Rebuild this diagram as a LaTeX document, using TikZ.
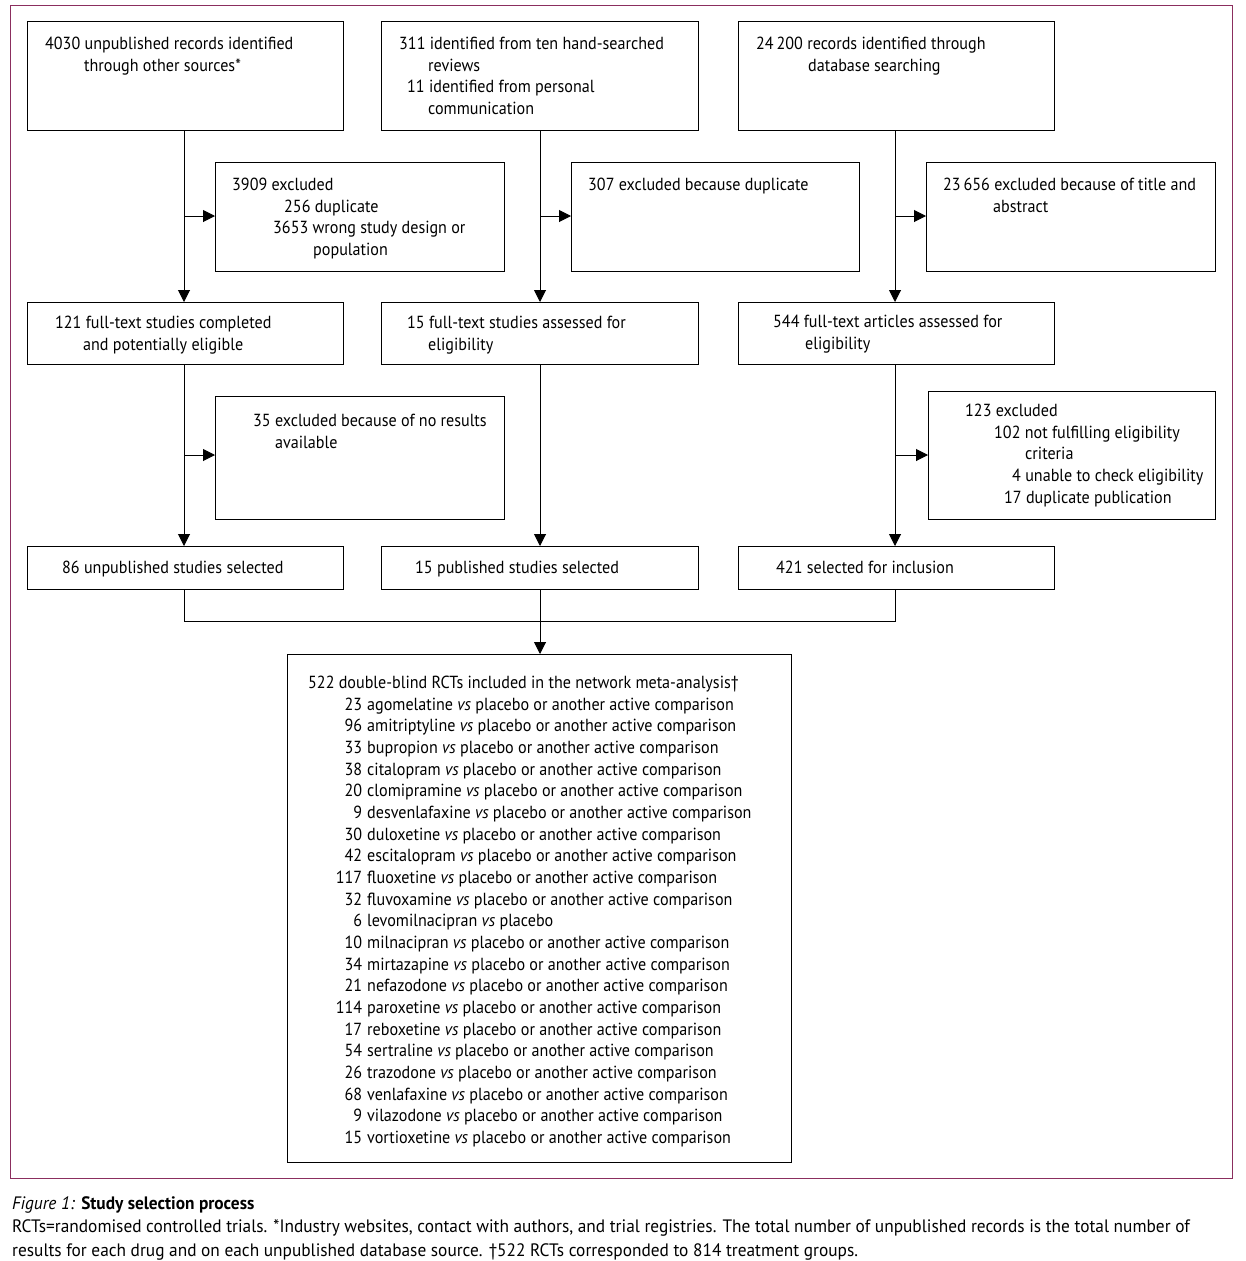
\documentclass[tikz,border=0pt]{standalone}
\usepackage{fontspec}
\setmainfont{PT Sans}[FakeStretch=0.92]
\newfontfamily\capfont{PT Sans}[FakeStretch=0.962]
\usetikzlibrary{arrows.meta}
\definecolor{frame}{RGB}{139,46,94}
\tikzset{
  box/.style={draw, line width=1pt, anchor=north west, inner sep=0pt},
  txt/.style={anchor=north west, inner sep=0pt, align=left, font=\fontsize{17.5}{21.67}\selectfont},
  capt/.style={anchor=base west, inner sep=0pt, font=\capfont\fontsize{18}{20}\selectfont},
  line/.style={line width=1pt},
  arr/.style={line width=1pt, -{Triangle[length=12pt,width=12pt]}},
}
\newcommand{\vsx}{\textit{vs}}
\newcommand{\nl}[2]{\makebox[54pt][r]{#1}\hspace{5pt}#2}
% first-line baseline offset: strut height = 0.7*21.67
\newcommand{\fs}{\strut}
\begin{document}
\begin{tikzpicture}[x=1pt,y=-1pt]
\useasboundingbox (0,0) rectangle (1245,1261);
\fill[white] (0,0) rectangle (1245,1261);
\node[draw=frame, line width=1pt, anchor=north west, minimum width=1222pt, minimum height=1173pt, inner sep=0pt] (frm) at (10,5) {};

% row 1
\node[box, minimum width=316pt, minimum height=109pt] (a1) at (27,21) {};
\node[box, minimum width=317pt, minimum height=109pt] (b1) at (381,21) {};
\node[box, minimum width=316pt, minimum height=109pt] (c1) at (738,21) {};
\node[txt] (ta1) at (45,34) {\fs 4030 unpublished records identified\\\hspace*{39pt}through other sources*};
\node[txt] (tb1) at (399,34) {\fs 311 identified from ten hand-searched\\\hspace*{29pt}reviews\\\hspace*{8pt}11 identified from personal\\\hspace*{29pt}communication};
\node[txt] (tc1) at (756,34) {\fs 24\,200 records identified through\\\hspace*{52pt}database searching};

% exclusion row 1
\node[box, minimum width=289pt, minimum height=109pt] (e1) at (215,162) {};
\node[box, minimum width=288pt, minimum height=109pt] (e2) at (571,162) {};
\node[box, minimum width=289pt, minimum height=109pt] (e3) at (926,162) {};
\node[txt] (te1) at (232,175) {\fs 3909 excluded\\\hspace*{52pt}256 duplicate\\\hspace*{41pt}3653 wrong study design or\\\hspace*{81pt}population};
\node[txt] (te2) at (588,175) {\fs 307 excluded because duplicate};
\node[txt] (te3) at (943,175) {\fs 23\,656 excluded because of title and\\\hspace*{50pt}abstract};

% row 2
\node[box, minimum width=316pt, minimum height=62pt] (a2) at (27,302) {};
\node[box, minimum width=317pt, minimum height=62pt] (b2) at (381,302) {};
\node[box, minimum width=316pt, minimum height=62pt] (c2) at (738,302) {};
\node[txt] (ta2) at (55,313) {\fs 121 full-text studies completed\\\hspace*{28pt}and potentially eligible};
\node[txt] (tb2) at (407,313) {\fs 15 full-text studies assessed for\\\hspace*{21pt}eligibility};
\node[txt] (tc2) at (773,312) {\fs 544 full-text articles assessed for\\\hspace*{32pt}eligibility};

% exclusion row 2
\node[box, minimum width=289pt, minimum height=123pt] (e4) at (215,396) {};
\node[box, minimum width=287pt, minimum height=128pt] (e6) at (928,391) {};
\node[txt] (te4) at (253,411) {\fs 35 excluded because of no results\\\hspace*{22pt}available};
\node[txt] (te6) at (965,401) {\fs 123 excluded\\\hspace*{29pt}102 not fulfilling eligibility\\\hspace*{60pt}criteria\\\hspace*{47pt}4 unable to check eligibility\\\hspace*{39pt}17 duplicate publication};

% row 3
\node[box, minimum width=316pt, minimum height=43pt] (a3) at (27,546) {};
\node[box, minimum width=317pt, minimum height=43pt] (b3) at (381,546) {};
\node[box, minimum width=316pt, minimum height=43pt] (c3) at (738,546) {};
\node[txt] (ta3) at (62,558) {\fs 86 unpublished studies selected};
\node[txt] (tb3) at (415,558) {\fs 15 published studies selected};
\node[txt] (tc3) at (776,558) {\fs 421 selected for inclusion};

% final box
\node[box, minimum width=504pt, minimum height=508pt] (fin) at (287,654) {};
\node[txt] (tfin) at (308,673) {\fs 522 double-blind RCTs included in the network meta-analysis\textdagger\\
\nl{23}{agomelatine \vsx{} placebo or another active comparison}\\
\nl{96}{amitriptyline \vsx{} placebo or another active comparison}\\
\nl{33}{bupropion \vsx{} placebo or another active comparison}\\
\nl{38}{citalopram \vsx{} placebo or another active comparison}\\
\nl{20}{clomipramine \vsx{} placebo or another active comparison}\\
\nl{9}{desvenlafaxine \vsx{} placebo or another active comparison}\\
\nl{30}{duloxetine \vsx{} placebo or another active comparison}\\
\nl{42}{escitalopram \vsx{} placebo or another active comparison}\\
\nl{117}{fluoxetine \vsx{} placebo or another active comparison}\\
\nl{32}{fluvoxamine \vsx{} placebo or another active comparison}\\
\nl{6}{levomilnacipran \vsx{} placebo}\\
\nl{10}{milnacipran \vsx{} placebo or another active comparison}\\
\nl{34}{mirtazapine \vsx{} placebo or another active comparison}\\
\nl{21}{nefazodone \vsx{} placebo or another active comparison}\\
\nl{114}{paroxetine \vsx{} placebo or another active comparison}\\
\nl{17}{reboxetine \vsx{} placebo or another active comparison}\\
\nl{54}{sertraline \vsx{} placebo or another active comparison}\\
\nl{26}{trazodone \vsx{} placebo or another active comparison}\\
\nl{68}{venlafaxine \vsx{} placebo or another active comparison}\\
\nl{9}{vilazodone \vsx{} placebo or another active comparison}\\
\nl{15}{vortioxetine \vsx{} placebo or another active comparison}};

% connectors
\coordinate (ja) at (184,216);
\coordinate (jb) at (540,216);
\coordinate (jc) at (895,216);
\coordinate (ka) at (184,455);
\coordinate (kc) at (895,455);
\draw[arr] (a1.south -| ja) -- (a2.north -| ja);
\draw[arr] (b1.south -| jb) -- (b2.north -| jb);
\draw[arr] (c1.south -| jc) -- (c2.north -| jc);
\draw[arr] (ja) -- (ja -| e1.west);
\draw[arr] (jb) -- (jb -| e2.west);
\draw[arr] (jc) -- (jc -| e3.west);
\draw[arr] (a2.south -| ka) -- (a3.north -| ka);
\draw[arr] (b2.south -| jb) -- (b3.north -| jb);
\draw[arr] (c2.south -| kc) -- (c3.north -| kc);
\draw[arr] (ka) -- (ka -| e4.west);
\draw[arr] (kc) -- (kc -| e6.west);
\coordinate (ma) at (184,621);
\coordinate (mc) at (895,621);
\draw[line] (a3.south -| ma) -- (ma) -- (mc) -- (c3.south -| mc);
\draw[arr] (b3.south -| jb) -- (fin.north -| jb);

% caption
\node[capt] (cap1) at (12,1209) {\textit{Figure 1:} \textbf{Study selection process}};
\node[capt] (cap2) at (12,1232) {RCTs=randomised controlled trials. *Industry websites, contact with authors, and trial registries. The total number of unpublished records is the total number of};
\node[capt] (cap3) at (12,1256) {results for each drug and on each unpublished database source. \textdagger522 RCTs corresponded to 814 treatment groups.};
\end{tikzpicture}
\end{document}
